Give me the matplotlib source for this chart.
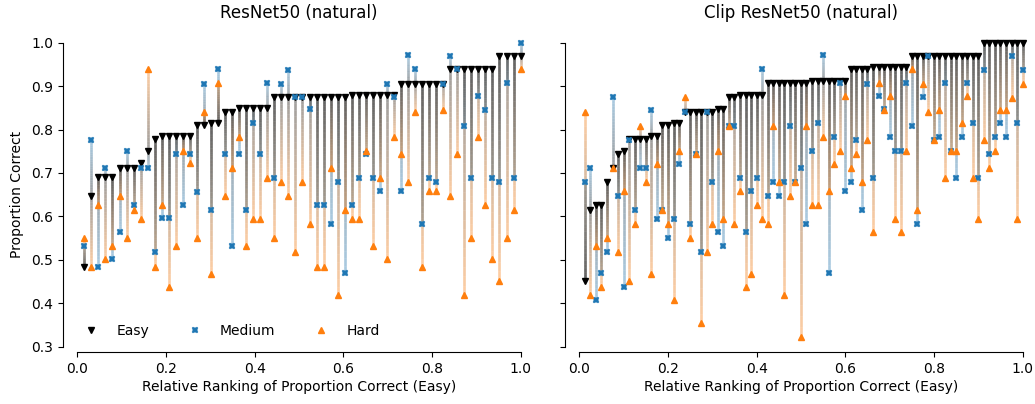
import numpy as np
import matplotlib
matplotlib.use("Agg")
import matplotlib.pyplot as plt
from matplotlib.collections import LineCollection
from matplotlib.colors import to_rgb

# ---------------- data ----------------
left_title = "ResNet50 (natural)"
right_title = "Clip ResNet50 (natural)"

left_easy = [0.484, 0.647, 0.690, 0.690, 0.690, 0.712, 0.712, 0.712, 0.722, 0.751,
             0.778, 0.785, 0.785, 0.785, 0.785, 0.785, 0.811, 0.811, 0.816, 0.816,
             0.841, 0.841, 0.849, 0.849, 0.849, 0.849, 0.849] + [0.875] * 11 + \
            [0.880] * 7 + [0.906] * 7 + [0.939] * 7 + [0.970] * 4
left_medium = [0.533, 0.776, 0.484, 0.711, 0.501, 0.565, 0.751, 0.626, 0.711, 0.711,
               0.517, 0.596, 0.596, 0.744, 0.626, 0.744, 0.657, 0.905, 0.614, 0.939,
               0.744, 0.533, 0.744, 0.614, 0.814, 0.744, 0.908, 0.689, 0.905, 0.938,
               0.875, 0.875, 0.847, 0.626, 0.626, 0.582, 0.679, 0.470, 0.626, 0.689,
               0.744, 0.689, 0.659, 0.905, 0.875, 0.659, 0.972, 0.939, 0.582, 0.689,
               0.679, 0.905, 0.970, 0.939, 0.808, 0.689, 0.877, 0.845, 0.689, 0.679,
               0.908, 0.689, 1.000]
left_hard = [0.550, 0.484, 0.626, 0.501, 0.533, 0.646, 0.550, 0.614, 0.595, 0.939,
             0.484, 0.626, 0.438, 0.533, 0.751, 0.722, 0.550, 0.841, 0.468, 0.908,
             0.646, 0.711, 0.783, 0.533, 0.595, 0.595, 0.688, 0.550, 0.679, 0.646,
             0.517, 0.679, 0.582, 0.484, 0.484, 0.711, 0.419, 0.614, 0.595, 0.595,
             0.751, 0.533, 0.688, 0.501, 0.783, 0.744, 0.679, 0.841, 0.484, 0.659,
             0.659, 0.845, 0.646, 0.744, 0.419, 0.550, 0.783, 0.626, 0.501, 0.452,
             0.550, 0.614, 0.939]

right_easy = [0.452, 0.614, 0.626, 0.626, 0.679, 0.711, 0.744, 0.751] + [0.778] * 4 + \
             [0.785] * 2 + [0.811] * 2 + [0.816] * 2 + [0.841] * 6 + [0.847] * 2 + \
             [0.875] * 2 + [0.880] * 5 + [0.908] * 8 + [0.912] * 7 + [0.939] * 4 + \
             [0.943] * 7 + [0.970] * 13 + [1.000] * 8
right_medium = [0.679, 0.711, 0.407, 0.470, 0.517, 0.875, 0.646, 0.438, 0.776, 0.614,
                0.711, 0.711, 0.845, 0.595, 0.614, 0.550, 0.595, 0.720, 0.841, 0.582,
                0.744, 0.517, 0.841, 0.679, 0.564, 0.533, 0.808, 0.808, 0.689, 0.564,
                0.659, 0.689, 0.939, 0.646, 0.679, 0.646, 0.679, 0.808, 0.679, 0.711,
                0.582, 0.751, 0.814, 0.972, 0.470, 0.783, 0.908, 0.659, 0.679, 0.776,
                0.614, 0.905, 0.689, 0.877, 0.847, 0.783, 0.751, 0.751, 0.908, 0.808,
                0.582, 0.875, 0.970, 0.776, 0.783, 0.908, 0.751, 0.689, 0.783, 0.908,
                0.814, 0.689, 0.938, 0.744, 0.783, 0.814, 0.783, 0.970, 0.814, 0.938]
right_hard = [0.841, 0.419, 0.533, 0.438, 0.550, 0.711, 0.517, 0.659, 0.452, 0.582,
              0.808, 0.679, 0.468, 0.720, 0.614, 0.582, 0.407, 0.751, 0.875, 0.550,
              0.744, 0.354, 0.517, 0.582, 0.751, 0.595, 0.808, 0.582, 0.659, 0.438,
              0.468, 0.626, 0.595, 0.582, 0.808, 0.679, 0.419, 0.646, 0.679, 0.322,
              0.808, 0.626, 0.626, 0.783, 0.659, 0.720, 0.751, 0.877, 0.711, 0.744,
              0.679, 0.776, 0.564, 0.908, 0.845, 0.877, 0.595, 0.564, 0.751, 0.939,
              0.614, 0.905, 0.841, 0.776, 0.845, 0.689, 0.751, 0.751, 0.814, 0.877,
              0.689, 0.595, 0.776, 0.711, 0.751, 0.845, 0.845, 0.872, 0.595, 0.905]

xticks = [0.0, 0.2, 0.4, 0.6, 0.8, 1.0]
yticks = [0.3, 0.4, 0.5, 0.6, 0.7, 0.8, 0.9, 1.0]

# ---------------- style ----------------
C_EASY = "black"
C_MED = "#1f77b4"
C_HARD = "#ff7f0e"

W, H = 1035, 404
fig = plt.figure(figsize=(W / 100, H / 100), dpi=100)

ppu = 443.3                      # pixels per x unit
xlim = (-0.02, 1.02)
ax_w = (xlim[1] - xlim[0]) * ppu
y_top_px, y_bot_px = 42.7, 346.7
left_zero_px = [77.3, 579.3]


def gradient_lines(ax, x, start, end, color, nseg=24, alpha=0.38, lw=1.9):
    c0 = np.array(to_rgb("black"))
    c1 = np.array(to_rgb(color))
    segs, cols = [], []
    for xi, s, e in zip(x, start, end):
        ys = np.linspace(s, e, nseg + 1)
        for k in range(nseg):
            t = (k + 0.5) / nseg
            segs.append([(xi, ys[k]), (xi, ys[k + 1])])
            cols.append((*(c0 * (1 - t) + c1 * t), alpha))
    lc = LineCollection(segs, colors=cols, linewidths=lw, capstyle="butt",
                        zorder=1, clip_on=False)
    ax.add_collection(lc)


panels = [(left_title, left_easy, left_medium, left_hard),
          (right_title, right_easy, right_medium, right_hard)]

axes = []
for p, (title, easy, med, hard) in enumerate(panels):
    ax_left_px = left_zero_px[p] + xlim[0] * ppu
    ax = fig.add_axes([ax_left_px / W, (H - y_bot_px) / H,
                       ax_w / W, (y_bot_px - y_top_px) / H])
    axes.append(ax)
    n = len(easy)
    x = np.arange(1, n + 1) / n

    gradient_lines(ax, x, easy, med, C_MED)
    gradient_lines(ax, x, easy, hard, C_HARD)

    ax.plot(x, easy, "v", color=C_EASY, ms=4.6, ls="none", label="Easy",
            zorder=3, clip_on=False)
    ax.plot(x, med, "X", color=C_MED, ms=4.6, mew=0.3, ls="none", label="Medium",
            zorder=3, clip_on=False)
    ax.plot(x, hard, "^", color=C_HARD, ms=4.6, ls="none", label="Hard",
            zorder=3, clip_on=False)

    ax.set_xlim(*xlim)
    ax.set_ylim(0.3, 1.0)
    ax.set_xticks(xticks)
    ax.set_yticks(yticks)
    ax.tick_params(labelsize=10)
    for s in ["top", "right"]:
        ax.spines[s].set_visible(False)
    ax.spines["left"].set_position(("outward", 4))
    ax.spines["bottom"].set_position(("outward", 4))
    ax.spines["left"].set_bounds(0.3, 1.0)
    ax.spines["bottom"].set_bounds(0.0, 1.0)
    ax.set_xlabel("Relative Ranking of Proportion Correct (Easy)", fontsize=10,
                  labelpad=3)
    ax.set_title(title, fontsize=12, pad=18)
    if p == 0:
        ax.set_ylabel("Proportion Correct", fontsize=10, labelpad=5)
        ax.legend(loc="lower left", ncol=3, frameon=False, fontsize=10,
                  columnspacing=2.3, handletextpad=0.8, borderaxespad=0.25)
    else:
        ax.tick_params(axis="y", labelleft=False)

fig.savefig("out.png", dpi=100)
